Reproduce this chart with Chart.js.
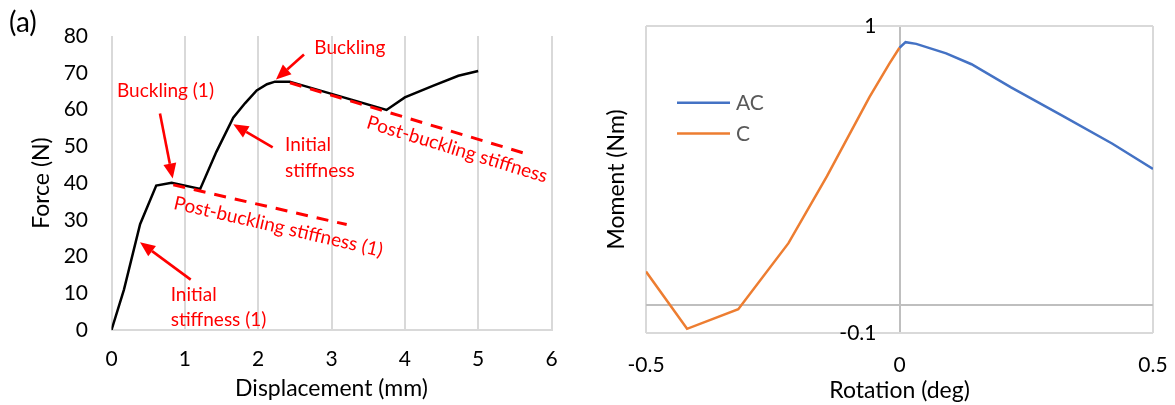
<!DOCTYPE html>
<html><head><meta charset="utf-8">
<script src="https://cdn.jsdelivr.net/npm/chart.js@4/dist/chart.umd.min.js"></script>
<style>
html,body{margin:0;padding:0;background:#fff;}
#wrap{position:relative;width:1175px;height:405px;overflow:hidden;}
#c1{position:absolute;left:0;top:0;}
#c2{position:absolute;left:590px;top:0;}
</style></head><body>
<div id="wrap"><canvas id="c1" width="590" height="405"></canvas><canvas id="c2" width="585" height="405"></canvas></div>
<script>
// ---------- Panel (a): force vs displacement ----------
const displacement = [0, 0.17, 0.39, 0.61, 0.82, 1.21, 1.43, 1.66, 1.82, 1.98, 2.12, 2.23, 2.43, 3.75, 4.0, 4.39, 4.73, 5.0];
const force        = [0, 11, 28.8, 39.3, 40.1, 38.4, 48.5, 57.8, 61.7, 65.2, 66.9, 67.6, 67.6, 59.9, 63.3, 66.5, 69.2, 70.5];
const postBuckling1X = [0.843, 3.207];
const postBuckling1Y = [39.5, 28.7];
const postBucklingX  = [2.434, 5.684];
const postBucklingY  = [67.3, 47.8];
const displacementTicks = [0, 1, 2, 3, 4, 5, 6];
const forceTicks = [0, 10, 20, 30, 40, 50, 60, 70, 80];

// annotation texts, anchored in data units (displacement, force)
const noteTexts  = ['Buckling (1)', 'Buckling', 'Initial', 'stiffness', 'Initial', 'stiffness (1)', 'Post-buckling stiffness (1)', 'Post-buckling stiffness'];
const noteX      = [0.736, 3.25, 2.366, 2.366, 0.807, 0.807, 2.275, 4.714];
const noteY      = [65.1, 76.9, 50.4, 43.3, 9.56, 2.79, 28.1, 49.15];
const noteAlign  = ['center', 'center', 'left', 'left', 'left', 'left', 'center', 'center'];
const noteAngle  = [0, 0, 0, 0, 0, 0, 13, 17];
// arrows: tail -> tip, in data units
const arrowTailX = [0.661, 1.08, 2.198, 2.625];
const arrowTailY = [58.9, 13.7, 49.7, 75.0];
const arrowTipX  = [0.835, 0.389, 1.661, 2.243];
const arrowTipY  = [41.25, 23.9, 56.0, 68.2];

// ---------- Panel (b): moment vs rotation ----------
const rotationAC = [0, 0.012, 0.033, 0.092, 0.142, 0.22, 0.32, 0.42, 0.5];
const momentAC   = [0.922, 0.942, 0.936, 0.902, 0.863, 0.78, 0.68, 0.578, 0.488];
const rotationC  = [-0.5, -0.419, -0.318, -0.219, -0.143, -0.059, -0.02, 0];
const momentC    = [0.12, -0.085, -0.015, 0.222, 0.462, 0.746, 0.865, 0.922];
const rotationTicks = [-0.5, 0, 0.5];
const momentTicks = [-0.1, 0, 1];
const momentTickLabels = ['-0.1', '', '1'];

const FONT = 'Lato';
const tickFont = {family: FONT, size: 21};
const titleFont = {family: FONT, size: 23};
const RED = '#ff0000';

const pts = (xs, ys) => xs.map((x, i) => ({x, y: ys[i]}));

const annotPlugin = {
  id: 'annot',
  afterDatasetsDraw(chart) {
    const {ctx, scales: {x, y}} = chart;
    ctx.save();
    ctx.strokeStyle = RED; ctx.fillStyle = RED; ctx.lineWidth = 2.6;
    for (let i = 0; i < arrowTailX.length; i++) {
      const x1 = x.getPixelForValue(arrowTailX[i]), y1 = y.getPixelForValue(arrowTailY[i]);
      const x2 = x.getPixelForValue(arrowTipX[i]), y2 = y.getPixelForValue(arrowTipY[i]);
      const a = Math.atan2(y2 - y1, x2 - x1);
      const hl = 15, hw = 6.5;
      const bx = x2 - hl * Math.cos(a), by = y2 - hl * Math.sin(a);
      ctx.beginPath(); ctx.moveTo(x1, y1); ctx.lineTo(bx, by); ctx.stroke();
      ctx.beginPath();
      ctx.moveTo(x2, y2);
      ctx.lineTo(bx + hw * Math.sin(a), by - hw * Math.cos(a));
      ctx.lineTo(bx - hw * Math.sin(a), by + hw * Math.cos(a));
      ctx.closePath(); ctx.fill();
    }
    ctx.font = '19px ' + FONT;
    ctx.textBaseline = 'middle';
    for (let i = 0; i < noteTexts.length; i++) {
      const px = x.getPixelForValue(noteX[i]), py = y.getPixelForValue(noteY[i]);
      ctx.save();
      ctx.translate(px, py);
      ctx.rotate(noteAngle[i] * Math.PI / 180);
      ctx.textAlign = noteAlign[i];
      ctx.fillText(noteTexts[i], 0, 0);
      ctx.restore();
    }
    ctx.font = '28px ' + FONT;
    ctx.fillStyle = '#000';
    ctx.textAlign = 'left';
    ctx.fillText('(a)', 9, 23);
    ctx.restore();
  }
};

const noLabelPad = s => { s.paddingLeft = 0; s.paddingRight = 0; };

new Chart(document.getElementById('c1'), {
  type: 'scatter',
  data: {
    datasets: [
      {label: 'Post-buckling stiffness (1)', data: pts(postBuckling1X, postBuckling1Y), showLine: true,
       borderColor: RED, borderWidth: 3, borderDash: [12, 9], pointRadius: 0, order: 1},
      {label: 'Post-buckling stiffness', data: pts(postBucklingX, postBucklingY), showLine: true,
       borderColor: RED, borderWidth: 3, borderDash: [12, 9], pointRadius: 0, order: 1},
      {label: 'Force', data: pts(displacement, force), showLine: true,
       borderColor: '#000', borderWidth: 2.5, pointRadius: 0, order: 2}
    ]
  },
  options: {
    responsive: false, animation: false,
    layout: {padding: {left: 0, right: 38.5, top: 23, bottom: 0}},
    plugins: {legend: {display: false}, tooltip: {enabled: false}},
    scales: {
      x: {
        type: 'linear', min: 0, max: 6,
        afterBuildTicks: s => { s.ticks = displacementTicks.map(v => ({value: v})); },
        ticks: {font: tickFont, color: '#000', padding: 17},
        grid: {color: '#d9d9d9', lineWidth: 2, drawTicks: false},
        border: {color: '#d9d9d9', width: 2},
        title: {display: true, text: 'Displacement (mm)', font: titleFont, color: '#000', padding: {top: 0, bottom: 3}},
        afterFit: s => { s.height = 75; noLabelPad(s); }
      },
      y: {
        type: 'linear', min: 0, max: 80,
        afterBuildTicks: s => { s.ticks = forceTicks.map(v => ({value: v})); },
        ticks: {font: tickFont, color: '#000', padding: 23.5},
        grid: {display: false, drawTicks: false},
        border: {display: false},
        title: {display: true, text: 'Force (N)', font: titleFont, color: '#000', padding: {top: 28, bottom: 0}},
        afterFit: s => { s.width = 111.5; }
      }
    }
  },
  plugins: [annotPlugin]
});

// legend drawn inside the plot area from the datasets' own labels and colours
const insideLegend = {
  id: 'insideLegend',
  afterDraw(chart) {
    const {ctx, chartArea} = chart;
    const x0 = chartArea.left + 31, y0 = 102.7, gap = 30.7, len = 53;
    ctx.save();
    ctx.font = '21px ' + FONT;
    ctx.textBaseline = 'middle';
    ctx.textAlign = 'left';
    chart.data.datasets.forEach((ds, i) => {
      const yy = y0 + i * gap;
      ctx.strokeStyle = ds.borderColor; ctx.lineWidth = 2.5;
      ctx.beginPath(); ctx.moveTo(x0, yy); ctx.lineTo(x0 + len, yy); ctx.stroke();
      ctx.fillStyle = '#595959';
      ctx.fillText(ds.label, x0 + len + 6, yy + 0.5);
    });
    ctx.restore();
  }
};

const gridColor = ctx => (ctx.tick && ctx.tick.value === 0) ? '#bfbfbf' : '#d9d9d9';

new Chart(document.getElementById('c2'), {
  type: 'scatter',
  data: {
    datasets: [
      {label: 'AC', data: pts(rotationAC, momentAC), showLine: true, borderColor: '#4472c4', backgroundColor: '#4472c4',
       borderWidth: 2.5, pointRadius: 0},
      {label: 'C', data: pts(rotationC, momentC), showLine: true, borderColor: '#ed7d31', backgroundColor: '#ed7d31',
       borderWidth: 2.5, pointRadius: 0}
    ]
  },
  options: {
    responsive: false, animation: false,
    layout: {padding: {left: 0, right: 22, top: 26, bottom: 0}},
    plugins: {tooltip: {enabled: false}, legend: {display: false}},
    scales: {
      x: {
        type: 'linear', min: -0.5, max: 0.5,
        afterBuildTicks: s => { s.ticks = rotationTicks.map(v => ({value: v})); },
        ticks: {font: tickFont, color: '#000', padding: 20},
        grid: {color: gridColor, lineWidth: 2, drawTicks: false},
        border: {display: false},
        title: {display: true, text: 'Rotation (deg)', font: titleFont, color: '#000', padding: {top: 0, bottom: 1}},
        afterFit: s => { s.height = 72; noLabelPad(s); }
      },
      y: {
        // labels sit just left of the vertical zero line (drawn by the x grid)
        type: 'linear', position: {x: -0.0454}, min: -0.1, max: 1,
        afterBuildTicks: s => { s.ticks = momentTicks.map(v => ({value: v})); },
        ticks: {font: tickFont, color: '#000', padding: 0,
                callback: v => momentTickLabels[momentTicks.indexOf(v)]},
        grid: {color: gridColor, lineWidth: 2, drawTicks: false},
        border: {display: false},
        afterFit: s => { s.paddingTop = 0; s.paddingBottom = 0; }
      },
      y2: {
        type: 'linear', position: 'left', min: -0.1, max: 1,
        ticks: {display: false},
        grid: {display: false, drawTicks: false},
        border: {display: false},
        title: {display: true, text: 'Moment (Nm)', font: titleFont, color: '#000', padding: {top: 13, bottom: 0}},
        afterFit: s => { s.width = 56; }
      }
    }
  },
  plugins: [insideLegend]
});
</script>
</body></html>
